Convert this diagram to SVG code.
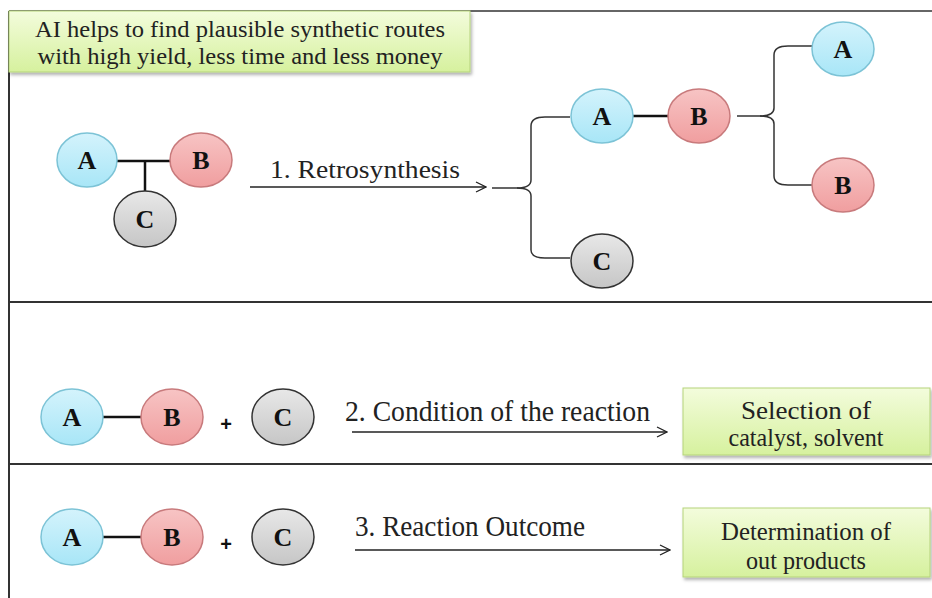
<svg xmlns="http://www.w3.org/2000/svg" width="932" height="598" viewBox="0 0 932 598">
<style>
.frame{stroke:#333;stroke-width:2;fill:none}
.bond{stroke:#111;stroke-width:2.5;fill:none}
.brace{stroke:#333;stroke-width:1.5;fill:none}
.arrow{stroke:#222;stroke-width:1.3;fill:none}
.lbl{font-family:'Liberation Serif','Times New Roman',serif;font-weight:bold;font-size:26px;fill:#111;text-anchor:middle}
.txt{font-family:'Liberation Serif','Times New Roman',serif;fill:#222}
.plus{font-family:'Liberation Sans',sans-serif;font-weight:bold;font-size:20px;fill:#111;text-anchor:middle}
.ca{fill:url(#gA);stroke:#7cc3d6;stroke-width:1.5}
.cb{fill:url(#gB);stroke:#c87a7c;stroke-width:1.5}
.cc{fill:url(#gC);stroke:#333;stroke-width:1.5}
.box{fill:url(#gG);stroke:#b5d37a;stroke-width:1}
</style>
<defs>
<linearGradient id="gA" x1="0" y1="0" x2="0" y2="1"><stop offset="0" stop-color="#d4f3fc"/><stop offset="1" stop-color="#a8e6f7"/></linearGradient>
<linearGradient id="gB" x1="0" y1="0" x2="0" y2="1"><stop offset="0" stop-color="#f7c4c4"/><stop offset="1" stop-color="#f09e9f"/></linearGradient>
<linearGradient id="gC" x1="0" y1="0" x2="0" y2="1"><stop offset="0" stop-color="#e8e8e8"/><stop offset="1" stop-color="#c6c6c6"/></linearGradient>
<linearGradient id="gG" x1="0" y1="0" x2="0" y2="1"><stop offset="0" stop-color="#f3fcdc"/><stop offset="1" stop-color="#d6f19e"/></linearGradient>
<filter id="sh" x="-10%" y="-10%" width="130%" height="140%"><feDropShadow dx="1.5" dy="2.5" stdDeviation="1.5" flood-color="#000" flood-opacity="0.3"/></filter>
<marker id="ah" markerWidth="12" markerHeight="12" refX="11" refY="6" orient="auto" markerUnits="userSpaceOnUse"><path d="M1,1 L11,6 L1,11" fill="none" stroke="#222" stroke-width="1.3"/></marker>
</defs>

<g id="frame">
<line class="frame" x1="9" y1="11" x2="932" y2="11" stroke="#555" style="stroke-width:1.6"/>
<line class="frame" x1="9" y1="11" x2="9" y2="598"/>
<line class="frame" x1="9" y1="302" x2="932" y2="302"/>
<line class="frame" x1="9" y1="464" x2="932" y2="464"/>
</g>

<g id="title">
<rect class="box" x="9" y="11" width="461" height="61" filter="url(#sh)"/>
<text class="txt" x="240" y="37" font-size="23" text-anchor="middle" textLength="410" lengthAdjust="spacingAndGlyphs">AI helps to find plausible synthetic routes</text>
<text class="txt" x="240" y="64" font-size="23" text-anchor="middle" textLength="405" lengthAdjust="spacingAndGlyphs">with high yield, less time and less money</text>
</g>

<g id="connectors">
<line class="bond" x1="117" y1="161" x2="171" y2="161"/>
<line class="bond" x1="145" y1="161" x2="145" y2="191"/>
<line class="arrow" x1="250" y1="187" x2="486" y2="187" marker-end="url(#ah)"/>
<path class="brace" d="M492,188 L517,188 Q531,188 531,180 L531,126 Q531,117 545,117 L570,117"/>
<path class="brace" d="M517,188 Q531,188 531,196 L531,250 Q531,258 545,258 L570,258"/>
<line class="bond" x1="633" y1="116" x2="669" y2="116"/>
<path class="brace" d="M737,116 L760,116 Q774,116 774,108 L774,55 Q774,46 788,46 L812,46"/>
<path class="brace" d="M760,116 Q774,116 774,124 L774,176 Q774,185 788,185 L812,185"/>
<line class="bond" x1="103" y1="417" x2="141" y2="417"/>
<line class="arrow" x1="352" y1="432" x2="667" y2="432" marker-end="url(#ah)"/>
<line class="bond" x1="103" y1="537" x2="141" y2="537"/>
<line class="arrow" x1="355" y1="550" x2="670" y2="550" marker-end="url(#ah)"/>
</g>

<g id="row1-left">
<g id="r1-A"><ellipse class="ca" cx="87" cy="160" rx="30" ry="27"/><text class="lbl" x="87" y="169">A</text></g>
<g id="r1-B"><ellipse class="cb" cx="201" cy="160" rx="31" ry="27"/><text class="lbl" x="201" y="169">B</text></g>
<g id="r1-C"><ellipse class="cc" cx="145" cy="219" rx="31" ry="28"/><text class="lbl" x="145" y="228">C</text></g>
</g>
<text class="txt" x="270" y="178" font-size="25" textLength="190" lengthAdjust="spacingAndGlyphs">1. Retrosynthesis</text>

<g id="row1-right">
<g id="r1-A2"><ellipse class="ca" cx="602" cy="116" rx="31" ry="27"/><text class="lbl" x="602" y="125">A</text></g>
<g id="r1-B2"><ellipse class="cb" cx="699" cy="116" rx="31" ry="27"/><text class="lbl" x="699" y="125">B</text></g>
<g id="r1-C2"><ellipse class="cc" cx="602" cy="261" rx="31" ry="27"/><text class="lbl" x="602" y="270">C</text></g>
<g id="r1-A3"><ellipse class="ca" cx="843" cy="49" rx="31" ry="27"/><text class="lbl" x="843" y="58">A</text></g>
<g id="r1-B3"><ellipse class="cb" cx="843" cy="185" rx="31" ry="27"/><text class="lbl" x="843" y="194">B</text></g>
</g>

<g id="row2">
<g id="r2-A"><ellipse class="ca" cx="72" cy="417" rx="31" ry="28"/><text class="lbl" x="72" y="426">A</text></g>
<g id="r2-B"><ellipse class="cb" cx="172" cy="417" rx="31" ry="28"/><text class="lbl" x="172" y="426">B</text></g>
<text class="plus" x="226" y="431">+</text>
<g id="r2-C"><ellipse class="cc" cx="283" cy="417" rx="31" ry="28"/><text class="lbl" x="283" y="426">C</text></g>
<text class="txt" x="345" y="421" font-size="29" textLength="305" lengthAdjust="spacingAndGlyphs">2. Condition of the reaction</text>
<g id="r2-box"><rect class="box" x="683" y="388" width="247" height="67" filter="url(#sh)"/>
<text class="txt" x="806" y="419" font-size="26" text-anchor="middle" textLength="130" lengthAdjust="spacingAndGlyphs">Selection of</text>
<text class="txt" x="806" y="446" font-size="26" text-anchor="middle" textLength="155" lengthAdjust="spacingAndGlyphs">catalyst, solvent</text></g>
</g>

<g id="row3">
<g id="r3-A"><ellipse class="ca" cx="72" cy="537" rx="31" ry="28"/><text class="lbl" x="72" y="546">A</text></g>
<g id="r3-B"><ellipse class="cb" cx="172" cy="537" rx="31" ry="28"/><text class="lbl" x="172" y="546">B</text></g>
<text class="plus" x="226" y="551">+</text>
<g id="r3-C"><ellipse class="cc" cx="283" cy="537" rx="31" ry="28"/><text class="lbl" x="283" y="546">C</text></g>
<text class="txt" x="355" y="536" font-size="29" textLength="230" lengthAdjust="spacingAndGlyphs">3. Reaction Outcome</text>
<g id="r3-box"><rect class="box" x="683" y="508" width="247" height="69" filter="url(#sh)"/>
<text class="txt" x="806" y="540" font-size="26" text-anchor="middle" textLength="170" lengthAdjust="spacingAndGlyphs">Determination of</text>
<text class="txt" x="806" y="569" font-size="26" text-anchor="middle" textLength="120" lengthAdjust="spacingAndGlyphs">out products</text></g>
</g>
</svg>
